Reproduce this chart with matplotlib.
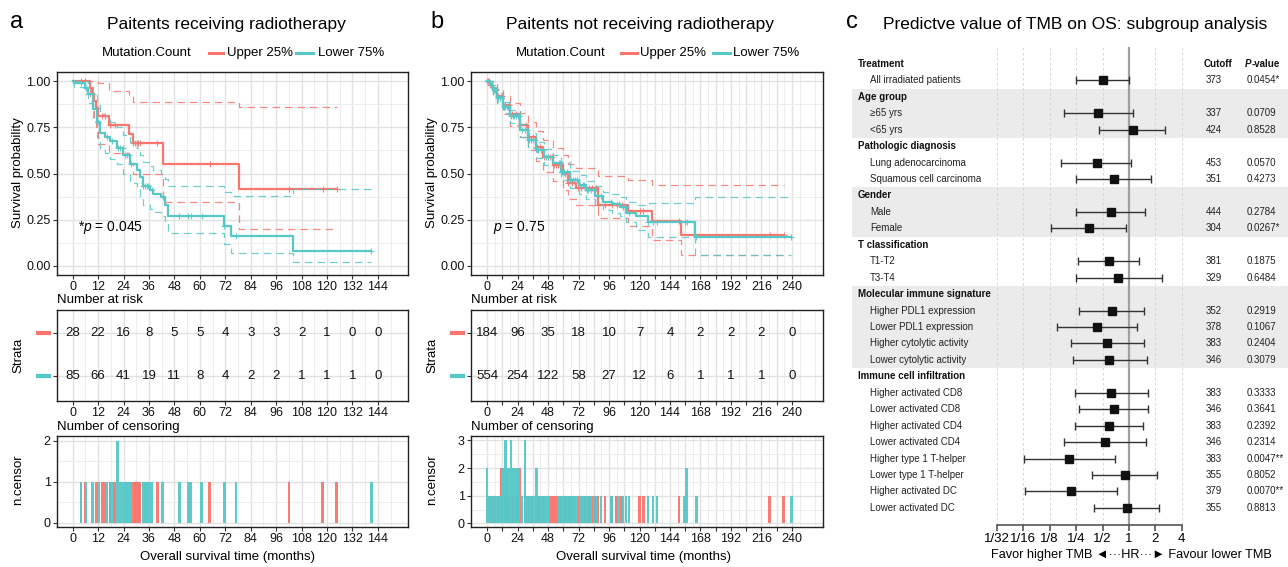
import numpy as np
import matplotlib
matplotlib.use("Agg")
import matplotlib.pyplot as plt
from matplotlib.lines import Line2D
from matplotlib.ticker import NullLocator

plt.rcParams['font.family'] = ['Liberation Sans', 'DejaVu Sans']
plt.rcParams['mathtext.fontset'] = 'custom'
plt.rcParams['mathtext.rm'] = 'Liberation Sans'
plt.rcParams['mathtext.it'] = 'Liberation Sans:italic'

W, H = 1288, 567
RED = '#F8766D'
TEAL = '#57C8C8'

# ---- panel a: irradiated patients (KM) ----
red_a_t = [0, 8, 9, 10, 11, 12, 17, 26.5, 28.5, 42.5, 78.5, 124.5]
red_a_s = [1, 0.964, 0.929, 0.893, 0.857, 0.81, 0.765, 0.715, 0.663, 0.552, 0.414, 0.414]
red_a_hi = [1, 1, 1, 1, 1, 0.99, 0.948, 0.92, 0.885, 0.885, 0.858, 0.858]
red_a_lo = [1, 0.90, 0.84, 0.79, 0.75, 0.66, 0.61, 0.555, 0.497, 0.348, 0.198, 0.198]

teal_a_t = [0, 0.6, 5.8, 7.4, 9.7, 11.3, 12.9, 15.2, 17.6, 20.7, 23.9, 27, 30.2, 31.7,
            33.3, 36.4, 38, 41.9, 43.5, 45.1, 71.3, 74.9, 104, 140.9]
teal_a_s = [1, 0.99, 0.965, 0.93, 0.85, 0.78, 0.72, 0.70, 0.675, 0.64, 0.60, 0.55, 0.52, 0.48,
            0.43, 0.41, 0.39, 0.37, 0.33, 0.27, 0.215, 0.16, 0.08, 0.08]
teal_a_hi = [1, 1, 1, 0.99, 0.93, 0.87, 0.82, 0.80, 0.78, 0.75, 0.71, 0.67, 0.64, 0.60,
             0.56, 0.54, 0.52, 0.50, 0.47, 0.43, 0.40, 0.38, 0.414, 0.414]
teal_a_lo = [1, 0.97, 0.93, 0.88, 0.78, 0.70, 0.63, 0.61, 0.58, 0.55, 0.50, 0.45, 0.42, 0.38,
             0.33, 0.31, 0.29, 0.27, 0.24, 0.175, 0.12, 0.068, 0.018, 0.018]

cens_red_a = [3.9, 5.8, 11.3, 14, 15.4, 17.6, 19.9, 28.6, 29.4, 30.2, 30.9, 31.7, 40, 64.7,
              102, 118, 124.5]
cens_teal_a = [3.9, 6.3, 9.4, 12.1, 16, 18.4, 21.2, 21.2, 22.3, 23.6, 24.7, 25.4, 26.4, 27.3,
               33.3, 34.1, 34.9, 35.6, 37.2, 42.4, 50.3, 54.5, 55.7, 60.9, 71.5, 77, 140.9]

risk_a_t = [0, 12, 24, 36, 48, 60, 72, 84, 96, 108, 120, 132, 144]
risk_red_a = [28, 22, 16, 8, 5, 5, 4, 3, 3, 2, 1, 0, 0]
risk_teal_a = [85, 66, 41, 19, 11, 8, 4, 2, 2, 1, 1, 1, 0]

# ---- panel b: non-irradiated patients ----
red_b_t = [0, 2, 4.7, 8, 12.6, 17.8, 25.7, 32, 38.8, 44, 52, 59.8, 63.7, 70, 87.3, 111,
           129.8, 152.4, 233.4]
red_b_s = [1, 0.98, 0.95, 0.92, 0.87, 0.82, 0.762, 0.70, 0.645, 0.59, 0.546, 0.50, 0.447,
           0.42, 0.33, 0.295, 0.245, 0.165, 0.165]
red_b_hi = [1, 1, 0.99, 0.96, 0.92, 0.88, 0.83, 0.78, 0.73, 0.68, 0.64, 0.60, 0.55, 0.53,
            0.488, 0.465, 0.44, 0.44, 0.44]
red_b_lo = [1, 0.96, 0.92, 0.88, 0.82, 0.76, 0.70, 0.63, 0.57, 0.51, 0.46, 0.41, 0.36, 0.33,
            0.258, 0.213, 0.14, 0.06, 0.06]

teal_b_t = [0, 2, 4.7, 8, 12.6, 17.8, 25.7, 32, 38.8, 45, 51.9, 58, 65, 72, 78.2, 85, 91.3,
            98, 104.4, 109.6, 117.5, 126.7, 163.7, 239.5]
teal_b_s = [1, 0.98, 0.95, 0.91, 0.86, 0.81, 0.735, 0.68, 0.627, 0.59, 0.555, 0.51, 0.465,
            0.44, 0.41, 0.38, 0.348, 0.335, 0.32, 0.285, 0.267, 0.238, 0.157, 0.157]
teal_b_hi = [1, 1, 0.97, 0.935, 0.89, 0.845, 0.77, 0.72, 0.67, 0.635, 0.60, 0.56, 0.515,
             0.49, 0.46, 0.43, 0.40, 0.39, 0.375, 0.345, 0.33, 0.342, 0.375, 0.375]
teal_b_lo = [1, 0.97, 0.93, 0.89, 0.83, 0.775, 0.70, 0.64, 0.585, 0.545, 0.51, 0.465, 0.42,
             0.39, 0.36, 0.33, 0.30, 0.285, 0.27, 0.235, 0.195, 0.155, 0.06, 0.06]

cens_red_b = [1, 2.5, 4, 6, 8.5, 11.5, 11.5, 14, 17, 20, 23, 26, 26, 30.5, 33, 36, 39.5, 41.5,
              45, 49.6, 51, 52.5, 54, 55.5, 58, 61.4, 64, 67, 71.6, 74, 77, 80, 83, 85.5, 87.5,
              92.8, 98, 102, 106, 120, 123, 151, 222.4, 233.4]
cens_teal_b = [0, 0, 1.2, 2.8, 4.1, 5.6, 7.3, 8.8, 10.2, 11.9, 11.9, 13.1, 13.1, 14.4, 14.4,
               14.4, 15.6, 15.6, 16.8, 16.8, 18.8, 18.8, 18.8, 20.1, 20.1, 21.4, 21.4, 22.7,
               22.7, 24.1, 24.1, 25.2, 25.2, 27.6, 29.9, 29.9, 29.9, 31.5, 33.2, 34.6, 36.1,
               37.5, 39.1, 39.1, 40.4, 42.8, 44.3, 46.2, 47.7, 56.3, 57.5, 59.4, 60.2, 62.8,
               65.1, 66.4, 68.0, 69.3, 70.6, 73.0, 75.2, 76.3, 78.4, 79.6, 81.8, 84.2, 86.4,
               89.7, 97.8, 103.5, 107, 109.5, 111.7, 126.7, 130.6, 133.8, 155.5, 157, 157,
               164.7, 239.5]

risk_b_t = [0, 24, 48, 72, 96, 120, 144, 168, 192, 216, 240]
risk_red_b = [184, 96, 35, 18, 10, 7, 4, 2, 2, 2, 0]
risk_teal_b = [554, 254, 122, 58, 27, 12, 6, 1, 1, 1, 0]

# ---- panel c: forest plot ----
groups = ["Treatment", "Age group", "Pathologic diagnosis", "Gender", "T classification",
          "Molecular immune signature", "Immune cell infiltration"]
subgroups = [["All irradiated patients"],
             ["≥65 yrs", "<65 yrs"],
             ["Lung adenocarcinoma", "Squamous cell carcinoma"],
             ["Male", "Female"],
             ["T1-T2", "T3-T4"],
             ["Higher PDL1 expression", "Lower PDL1 expression",
              "Higher cytolytic activity", "Lower cytolytic activity"],
             ["Higher activated CD8", "Lower activated CD8", "Higher activated CD4",
              "Lower activated CD4", "Higher type 1 T-helper", "Lower type 1 T-helper",
              "Higher activated DC", "Lower activated DC"]]
shaded_groups = [1, 3, 5]
hr = [0.50, 0.44, 1.10, 0.43, 0.67, 0.62, 0.35, 0.59, 0.76, 0.64, 0.43, 0.57, 0.60,
      0.62, 0.67, 0.59, 0.53, 0.21, 0.90, 0.22, 0.95]
hr_lo = [0.25, 0.18, 0.46, 0.17, 0.25, 0.25, 0.13, 0.26, 0.25, 0.27, 0.15, 0.22, 0.23,
         0.24, 0.27, 0.24, 0.18, 0.063, 0.38, 0.065, 0.40]
hr_hi = [1.01, 1.10, 2.57, 1.06, 1.78, 1.52, 0.93, 1.31, 2.40, 1.49, 1.24, 1.48, 1.60,
         1.64, 1.64, 1.44, 1.55, 0.69, 2.11, 0.73, 2.19]
cutoff = [373, 337, 424, 453, 351, 444, 304, 381, 329, 352, 378, 383, 346,
          383, 346, 383, 346, 383, 355, 379, 355]
pvals = ["0.0454*", "0.0709", "0.8528", "0.0570", "0.4273", "0.2784", "0.0267*", "0.1875",
         "0.6484", "0.2919", "0.1067", "0.2404", "0.3079", "0.3333", "0.3641", "0.2392",
         "0.2314", "0.0047**", "0.8052", "0.0070**", "0.8813"]
hr_ticks = [1/32, 1/16, 1/8, 1/4, 1/2, 1, 2, 4]
hr_ticklabels = ["1/32", "1/16", "1/8", "1/4", "1/2", "1", "2", "4"]


fig = plt.figure(figsize=(W / 100, H / 100), dpi=100)


def fx(px):
    return px / W


def fy(py):
    return 1 - py / H


def add_ax(l, t, r, b):
    return fig.add_axes([l / W, 1 - b / H, (r - l) / W, (b - t) / H])


def style(ax, xlim, ylim, xmaj, xlab, xmin, ymaj, ylab, ymin):
    ax.set_xlim(*xlim)
    ax.set_ylim(*ylim)
    ax.set_xticks(xmaj)
    ax.set_xticklabels(xlab)
    ax.set_xticks(xmin, minor=True)
    ax.set_yticks(ymaj)
    ax.set_yticklabels(ylab)
    ax.set_yticks(ymin, minor=True)
    ax.grid(which='major', color='#E2E2E2', lw=1.0)
    ax.grid(which='minor', color='#EDEDED', lw=0.7)
    ax.set_axisbelow(True)
    ax.tick_params(which='major', length=3, width=0.8, labelsize=9, pad=1.5,
                   color='#333333', labelcolor='#111111')
    ax.tick_params(which='minor', length=0)
    for s in ax.spines.values():
        s.set_linewidth(1.0)
        s.set_color('#222222')


def km(ax, t, s, lo, hi, cens, color):
    ax.step(t, hi, where='post', color=color, lw=0.9, ls=(0, (6, 4)), alpha=0.85)
    ax.step(t, lo, where='post', color=color, lw=0.9, ls=(0, (6, 4)), alpha=0.85)
    ax.step(t, s, where='post', color=color, lw=1.6)
    ct = np.unique(cens)
    idx = np.searchsorted(t, ct, side='right') - 1
    ax.plot(ct, np.asarray(s)[idx], '+', color=color, ms=4, mew=0.8, alpha=0.9)


def risk(ax, times, n_red, n_teal):
    for t, n in zip(times, n_red):
        ax.text(t, 2, str(n), ha='center', va='center', fontsize=9.5, color='#111111')
    for t, n in zip(times, n_teal):
        ax.text(t, 1, str(n), ha='center', va='center', fontsize=9.5, color='#111111')
    for yv, c in [(2, RED), (1, TEAL)]:
        ax.add_line(Line2D([-0.06, -0.016], [yv, yv], transform=ax.get_yaxis_transform(),
                           color=c, lw=3, clip_on=False, solid_capstyle='butt'))


def cens_bars(ax, cens, color, width):
    ct, n = np.unique(cens, return_counts=True)
    ax.bar(ct, n, width=width, color=color, edgecolor='none', alpha=0.95)


panels = [
    dict(x0=57, x1=408, xlim=(-7.4, 158.2), step=12, tmax=144, lab_every=1, bw=1.3,
         km=[(red_a_t, red_a_s, red_a_lo, red_a_hi, cens_red_a),
             (teal_a_t, teal_a_s, teal_a_lo, teal_a_hi, cens_teal_a)],
         risk=(risk_a_t, risk_red_a, risk_teal_a), cens=(cens_red_a, cens_teal_a),
         cylim=(-0.1, 2.12), cmax=2, ptxt=(2.5, r'*$p$ = 0.045'),
         letter='a', lx=17, title='Paitents receiving radiotherapy', tx=226,
         leg=(102, 209, 223, 227, 296, 313, 318), ylx=18, xlx=228),
    dict(x0=471, x1=823, xlim=(-12.6, 264.4), step=12, tmax=240, lab_every=2, bw=2.0,
         km=[(red_b_t, red_b_s, red_b_lo, red_b_hi, cens_red_b),
             (teal_b_t, teal_b_s, teal_b_lo, teal_b_hi, cens_teal_b)],
         risk=(risk_b_t, risk_red_b, risk_teal_b), cens=(cens_red_b, cens_teal_b),
         cylim=(-0.13, 3.16), cmax=3, ptxt=(4.7, r'$p$ = 0.75'),
         letter='b', lx=437, title='Paitents not receiving radiotherapy', tx=640,
         leg=(516, 621, 637, 640, 713, 730, 733), ylx=432, xlx=643),
]

for p in panels:
    xmaj = np.arange(0, p['tmax'] + 1, p['step'])
    xlab = [str(v) if (i % p['lab_every'] == 0) else '' for i, v in enumerate(xmaj)]
    xmin = np.arange(p['step'] / 2, p['xlim'][1], p['step'])

    ax1 = add_ax(p['x0'], 72, p['x1'], 275)
    style(ax1, p['xlim'], (-0.05, 1.05), xmaj, xlab, xmin,
          [0, 0.25, 0.5, 0.75, 1.0], ['0.00', '0.25', '0.50', '0.75', '1.00'],
          [0.125, 0.375, 0.625, 0.875])
    for (t, s, lo, hi, cn), c in zip(p['km'], [RED, TEAL]):
        km(ax1, t, s, lo, hi, cn, c)
    ax1.text(p['ptxt'][0], 0.205, p['ptxt'][1], fontsize=10, va='center', ha='left')

    ax2 = add_ax(p['x0'], 310, p['x1'], 401)
    style(ax2, p['xlim'], (0.42, 2.53), xmaj, xlab, xmin, [1, 2], ['', ''], [])
    risk(ax2, *p['risk'])

    ax3 = add_ax(p['x0'], 436, p['x1'], 527)
    cy = np.arange(0, p['cmax'] + 1)
    style(ax3, p['xlim'], p['cylim'], xmaj, xlab, xmin, cy, [str(v) for v in cy],
          cy[:-1] + 0.5)
    cens_bars(ax3, p['cens'][0], RED, p['bw'])
    cens_bars(ax3, p['cens'][1], TEAL, p['bw'])

    fig.text(fx(p['lx']), fy(22), p['letter'], fontsize=17, ha='center', va='center')
    fig.text(fx(p['tx']), fy(24), p['title'], fontsize=12.5, ha='center', va='center')
    lg = p['leg']
    fig.text(fx(lg[0]), fy(53), 'Mutation.Count', fontsize=9.5, va='center')
    fig.add_artist(Line2D([fx(lg[1]), fx(lg[2])], [fy(53), fy(53)], color=RED, lw=2.2))
    fig.text(fx(lg[3]), fy(53), 'Upper 25%', fontsize=9.5, va='center')
    fig.add_artist(Line2D([fx(lg[4]), fx(lg[5])], [fy(53), fy(53)], color=TEAL, lw=2.2))
    fig.text(fx(lg[6]), fy(53), 'Lower 75%', fontsize=9.5, va='center')
    fig.text(fx(p['ylx']), fy(173), 'Survival probability', rotation=90, fontsize=9.5,
             ha='center', va='center')
    fig.text(fx(p['ylx']), fy(355), 'Strata', rotation=90, fontsize=9.5,
             ha='center', va='center')
    fig.text(fx(p['ylx']), fy(480), 'n.censor', rotation=90, fontsize=9.5,
             ha='center', va='center')
    fig.text(fx(p['x0']), fy(300), 'Number at risk', fontsize=9.5, va='center')
    fig.text(fx(p['x0']), fy(427), 'Number of censoring', fontsize=9.5, va='center')
    fig.text(fx(p['xlx']), fy(557), 'Overall survival time (months)', fontsize=9.5,
             ha='center', va='center')

# ---- forest plot ----
axf = add_ax(852, 47, 1288, 525)
axf.set_xscale('log', base=2)
axf.set_xlim(2 ** -10.48, 2 ** 6.02)
axf.set_ylim(-28.04, 1.03)
axf.patch.set_alpha(0)
for side in ['top', 'right', 'left']:
    axf.spines[side].set_visible(False)
axf.spines['bottom'].set_bounds(hr_ticks[0], hr_ticks[-1])
axf.spines['bottom'].set_color('#555555')
axf.spines['bottom'].set_linewidth(1.2)
axf.set_xticks(hr_ticks)
axf.set_xticklabels(hr_ticklabels)
axf.xaxis.set_minor_locator(NullLocator())
axf.tick_params(axis='x', length=4.5, width=1.2, color='#555555', labelsize=9.5, pad=1)
axf.set_yticks([])

tr = axf.get_yaxis_transform()
row = 0
k = 0
for gi, (g, subs) in enumerate(zip(groups, subgroups)):
    if gi in shaded_groups:
        axf.axhspan(-(row + len(subs)) - 0.5, -row + 0.5, color='#EBEBEB', zorder=0, lw=0)
    axf.text(0.014, -row, g, transform=tr, fontsize=7, fontweight='bold', va='center',
             color='#111111')
    if gi == 0:
        axf.text(0.839, -row, 'Cutoff', transform=tr, fontsize=7, fontweight='bold',
                 va='center', ha='center', color='#111111')
        tp = axf.text(0.901, -row, 'P', transform=tr, fontsize=7, fontweight='bold',
                      fontstyle='italic', va='center', color='#111111')
        axf.annotate('-value', xy=(1, 0), xycoords=tp, va='bottom', fontsize=7,
                     fontweight='bold', color='#111111')
    row += 1
    for s in subs:
        axf.text(0.041, -row, s, transform=tr, fontsize=7, va='center', color='#222222')
        axf.text(0.830, -row, str(cutoff[k]), transform=tr, fontsize=7, va='center',
                 ha='center', color='#222222')
        axf.text(0.904, -row, pvals[k], transform=tr, fontsize=7, va='center',
                 color='#222222')
        axf.errorbar(hr[k], -row, xerr=[[hr[k] - hr_lo[k]], [hr_hi[k] - hr[k]]], fmt='s',
                     color='#111111', ecolor='#333333', elinewidth=1.0, capsize=3,
                     capthick=1.0, ms=6, zorder=3)
        row += 1
        k += 1

for t in hr_ticks:
    if t != 1:
        axf.axvline(t, color='#D0D0D0', lw=0.6, ls=(0, (3, 3)), zorder=0.5)
axf.axvline(1, color='#A0A0A0', lw=1.6, zorder=1)

fig.text(fx(852), fy(22), 'c', fontsize=17, ha='center', va='center')
fig.text(fx(1075), fy(24), 'Predictve value of TMB on OS: subgroup analysis', fontsize=12.5,
         ha='center', va='center')
fig.text(fx(1131), fy(555), 'Favor higher TMB ◄···HR···► Favour lower TMB', fontsize=9.2,
         ha='center', va='center')

fig.savefig('out.png', dpi=100)
